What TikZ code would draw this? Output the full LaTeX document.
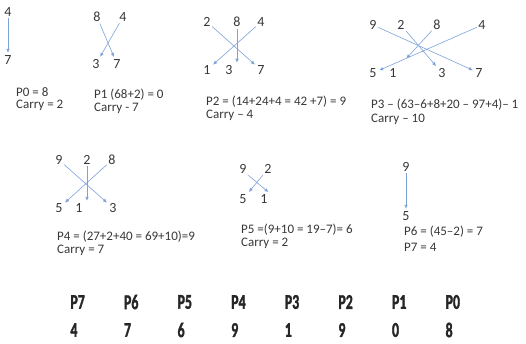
\documentclass[tikz,border=0pt]{standalone}
\usepackage{fontspec}
\setmainfont{Carlito}
\newfontfamily\condfont[FakeStretch=0.66,FakeBold=1.5]{Carlito}
\usetikzlibrary{arrows.meta}
\definecolor{arrowblue}{RGB}{125,162,218}
\definecolor{inkgray}{RGB}{55,55,55}

\begin{document}
\begin{tikzpicture}[x=1pt, y=-1pt, >={Latex[length=4pt,width=3.6pt]},
  font=\fontsize{13}{15}\selectfont, text=inkgray,
  dig/.style={inner sep=1.5pt, font=\fontsize{14}{16}\selectfont},
  lbl/.style={anchor=west, inner sep=0pt},
  mul/.style={->, draw=arrowblue, line width=0.6pt, shorten >=1pt},
  res/.style={font=\condfont\bfseries\fontsize{21}{22}\selectfont, text=black!85, inner sep=0pt}]
\useasboundingbox (0,0) rectangle (526,343);
% P0
\node[dig] (a4) at (8,12) {4};
\node[dig] (a7) at (8,60) {7};
\draw[mul] (a4) -- (a7);
\node[lbl] (p0) at (16,92) {P0 = 8};
\node[lbl] (c0) at (16,105) {Carry = 2};
% P1
\node[dig] (b8) at (97,17) {8};
\node[dig] (b4) at (123,17) {4};
\node[dig] (b3) at (96,64) {3};
\node[dig] (b7) at (117,64) {7};
\draw[mul] (b8) -- (b7);
\draw[mul] (b4) -- (b3);
\node[lbl] (p1) at (94,95) {P1 (68+2) = 0};
\node[lbl] (c1) at (94,108) {Carry - 7};
% P2
\node[dig] (c2t) at (207,22) {2};
\node[dig] (c8t) at (237,22) {8};
\node[dig] (c4t) at (261,22) {4};
\node[dig] (c1b) at (207,70) {1};
\node[dig] (c3b) at (229,70) {3};
\node[dig] (c7b) at (261,70) {7};
\draw[mul] (c2t) -- (c7b);
\draw[mul] (c8t) -- (c8t |- c3b.north);
\draw[mul] (c4t) -- (c1b);
\node[lbl] (p2) at (206,102) {P2 = (14+24+4 = 42 +7) = 9};
\node[lbl] (c2) at (206,115) {Carry – 4};
% P3
\node[dig] (d9t) at (373,25) {9};
\node[dig] (d2t) at (401,25) {2};
\node[dig] (d8t) at (437,25) {8};
\node[dig] (d4t) at (482,25) {4};
\node[dig] (d5b) at (373,73) {5};
\node[dig] (d1b) at (393,73) {1};
\node[dig] (d3b) at (442,73) {3};
\node[dig] (d7b) at (479,73) {7};
\draw[mul] (d9t) -- (d7b);
\draw[mul] (d2t) -- (d3b);
\draw[mul, shorten >=12pt] (d8t) -- (d1b);
\draw[mul] (d4t) -- (d5b);
\node[lbl] (p3) at (371,105) {P3 – (63–6+8+20 – 97+4)– 1};
\node[lbl] (c3) at (371,119) {Carry – 10};
% P4
\node[dig] (e9t) at (59,160) {9};
\node[dig] (e2t) at (87,160) {2};
\node[dig] (e8t) at (112,160) {8};
\node[dig] (e5b) at (59,208) {5};
\node[dig] (e1b) at (79,208) {1};
\node[dig] (e3b) at (113,208) {3};
\draw[mul] (e9t) -- (e3b);
\draw[mul] (e2t) -- (e2t |- e1b.north);
\draw[mul] (e8t) -- (e5b);
\node[lbl] (p4) at (57,237) {P4 = (27+2+40 = 69+10)=9};
\node[lbl] (c4) at (57,250) {Carry = 7};
% P5
\node[dig] (f9t) at (243,169) {9};
\node[dig] (f2t) at (268,169) {2};
\node[dig] (f5b) at (243,199) {5};
\node[dig] (f1b) at (264,199) {1};
\draw[mul] (f9t.south east) -- (f1b.north east);
\draw[mul] (f2t.south west) -- (f5b.north east);
\node[lbl] (p5) at (241,230) {P5 =(9+10 = 19–7)= 6};
\node[lbl] (c5) at (241,243) {Carry = 2};
% P6, P7
\node[dig] (g9t) at (406,167) {9};
\node[dig] (g5b) at (406,216) {5};
\draw[mul] (g9t) -- (g5b);
\node[lbl] (p6) at (404,232) {P6 = (45–2) = 7};
\node[lbl] (p7) at (404,247) {P7 = 4};
% final product
\foreach \p/\v [count=\i] in {7/4, 6/7, 5/6, 4/9, 3/1, 2/9, 1/0, 0/8} {
  \node[res] (r\p) at (24+53.6*\i,302) {P\p};
  \node[res, anchor=west] (v\p) at (r\p.west |- 0,330) {\v};
}
\end{tikzpicture}
\end{document}
